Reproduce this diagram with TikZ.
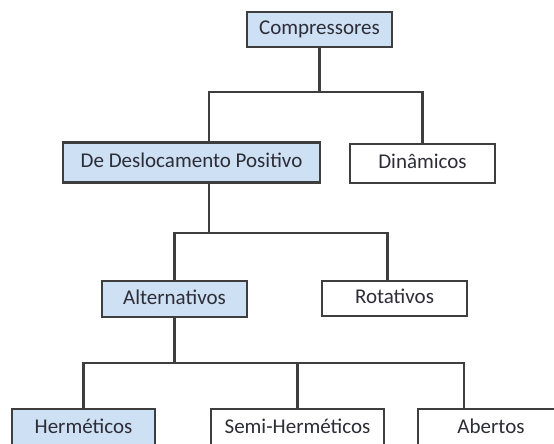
\documentclass[tikz,border=0pt]{standalone}
\usepackage{fontspec}
\setmainfont{Carlito}
\usepackage{tikz}
\usetikzlibrary{positioning, calc}
\usepackage{xcolor}
\definecolor{colBlue}{RGB}{206,224,243}
\definecolor{colBorder}{RGB}{62,62,62}
\definecolor{colText}{RGB}{45,45,55}
\newcommand{\boxfont}{\fontsize{21}{25}\selectfont}
\tikzset{
    box/.style={rectangle, draw=colBorder, line width=2.2pt, inner sep=0pt,
        minimum height=37pt, text height=14pt, text depth=4pt, align=center,
        font=\boxfont, text=colText},
    bluebox/.style={box, fill=colBlue},
    whitebox/.style={box, fill=white},
    link/.style={draw=colBorder, line width=2.2pt}
}

\begin{document}
\begin{tikzpicture}[x=1pt, y=-1pt]
    \useasboundingbox (0,0) rectangle (554,444);

    \node[bluebox, minimum width=145pt, minimum height=35pt] (comp) at (319.5,29.5) {Compressores};
    \node[bluebox, minimum width=257pt, minimum height=40pt] (ddp) at (191.5,162.5) {De Deslocamento Positivo};
    \node[whitebox, minimum width=145pt, minimum height=39pt] (din) at (422.5,163.5) {Dinâmicos};
    \node[bluebox, minimum width=145pt, minimum height=36pt] (alt) at (174.5,299) {Alternativos};
    \node[whitebox, minimum width=145pt, minimum height=35pt] (rot) at (394.5,298.5) {Rotativos};
    \node[bluebox, minimum width=143pt, minimum height=38pt] (her) at (83.5,428) {Herméticos};
    \node[whitebox, minimum width=173pt, minimum height=38pt] (semi) at (297.5,428) {Semi-Herméticos};
    \node[whitebox, minimum width=146pt, minimum height=38pt] (abe) at (491,428) {Abertos};

    % levels of the horizontal bars
    \coordinate (bus1) at (0,92);
    \coordinate (bus2) at (0,233);
    \coordinate (bus3) at (0,363);
    % off-centre attachment points
    \coordinate (ddpIn) at ([xshift=17.5pt]ddp.north);
    \coordinate (ddpOut) at ([xshift=17.5pt]ddp.south);
    \coordinate (rotIn) at ([xshift=-7pt]rot.north);
    \coordinate (abeIn) at ([xshift=-27pt]abe.north);

    \draw[link] (comp.south) -- (comp.south |- bus1);
    \draw[link] (ddpIn) -- (ddpIn |- bus1) -- (din.north |- bus1) -- (din.north);

    \draw[link] (ddpOut) -- (ddpOut |- bus2);
    \draw[link] (alt.north) -- (alt.north |- bus2) -- (rotIn |- bus2) -- (rotIn);

    \draw[link] (alt.south) -- (alt.south |- bus3);
    \draw[link] (her.north) -- (her.north |- bus3) -- (abeIn |- bus3) -- (abeIn);
    \draw[link] (semi.north) -- (semi.north |- bus3);
\end{tikzpicture}
\end{document}
